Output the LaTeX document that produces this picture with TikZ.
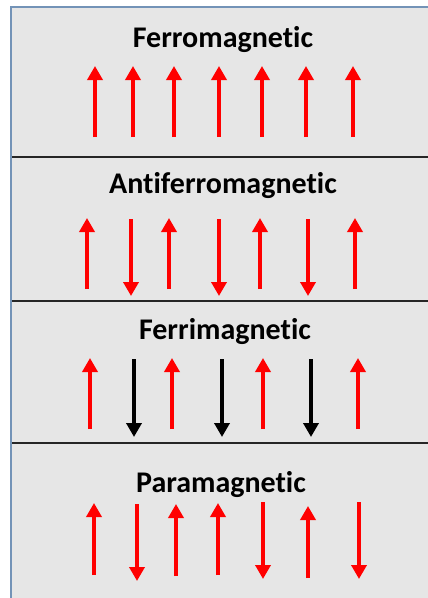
\documentclass[tikz,border=0pt]{standalone}
\usepackage{fontspec}
\setmainfont[Ligatures=NoCommon]{Carlito}
\usetikzlibrary{arrows.meta}

\definecolor{boxgrey}{HTML}{E6E6E6}
\definecolor{framecol}{HTML}{7393B7}

\begin{document}
\begin{tikzpicture}[x=1pt, y=-1pt,
  every node/.style={font=\bfseries\fontsize{30}{33}\selectfont},
  spin/.style={line width=4pt, -{Triangle[width=15pt, length=14pt]}}]
  \tikzset{divider/.style={line width=1.8pt, black!85}}
  \useasboundingbox (0,0) rectangle (428,598);
  % panel
  \fill[boxgrey] (11,7) rectangle (430,600);
  \draw[framecol, line width=2pt] (11,600) -- (11,7) -- (430,7);
  \draw[divider] (12,157) -- (430,157);
  \draw[divider] (12,301) -- (430,301);
  \draw[divider] (12,443) -- (430,443);
  % titles
  \node (ferro)     at (223,40)  {Ferromagnetic};
  \node (antiferro) at (223,186) {Antiferromagnetic};
  \node (ferri)     at (225,332) {Ferrimagnetic};
  \node (para)      at (221,485) {Paramagnetic};
  % ferromagnetic
  \foreach \x in {95,133,174,219,262,306,353}
    \draw[spin, red] (\x,137) -- (\x,66);
  % antiferromagnetic
  \foreach \x in {87,169,260,355}
    \draw[spin, red] (\x,289) -- (\x,218);
  \foreach \x in {131,219,308}
    \draw[spin, red] (\x,219) -- (\x,296);
  % ferrimagnetic
  \foreach \x in {90,172,263,358}
    \draw[spin, red] (\x,429) -- (\x,358);
  \foreach \x in {134,222,311}
    \draw[spin, black] (\x,359) -- (\x,437);
  % paramagnetic
  \foreach \x/\ya/\yb in {94/575/503, 137/504/581, 176/576/504, 218/575/503,
                          263/502/579, 308/578/506, 359/502/579}
    \draw[spin, red] (\x,\ya) -- (\x,\yb);
\end{tikzpicture}
\end{document}
